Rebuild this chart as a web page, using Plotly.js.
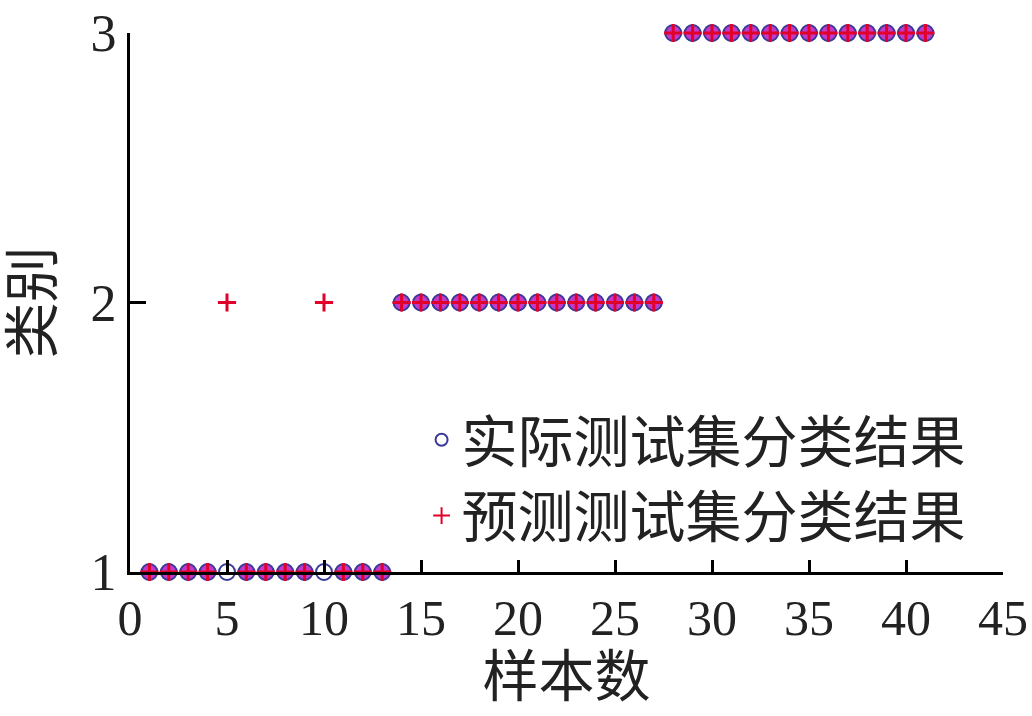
<!DOCTYPE html>
<html>
<head>
<meta charset="utf-8">
<script src="https://cdn.plot.ly/plotly-3.0.1.min.js"></script>
<style>
  html, body { margin: 0; padding: 0; background: #fff; }
  #chart { width: 1032px; height: 716px; }
</style>
</head>
<body>
<div id="chart"></div>
<script>
// sample number, 41 test samples
var samples = [1, 2, 3, 4, 5, 6, 7, 8, 9, 10, 11, 12, 13, 14, 15, 16, 17, 18, 19, 20,
  21, 22, 23, 24, 25, 26, 27, 28, 29, 30, 31, 32, 33, 34, 35, 36, 37, 38, 39, 40, 41];

// actual class of each test sample
var actualClass = [1, 1, 1, 1, 1, 1, 1, 1, 1, 1, 1, 1, 1,
  2, 2, 2, 2, 2, 2, 2, 2, 2, 2, 2, 2, 2, 2,
  3, 3, 3, 3, 3, 3, 3, 3, 3, 3, 3, 3, 3, 3];

// predicted class (samples 5 and 10 misclassified)
var predictedClass = [1, 1, 1, 1, 2, 1, 1, 1, 1, 2, 1, 1, 1,
  2, 2, 2, 2, 2, 2, 2, 2, 2, 2, 2, 2, 2, 2,
  3, 3, 3, 3, 3, 3, 3, 3, 3, 3, 3, 3, 3, 3];

var xTicks = [0, 5, 10, 15, 20, 25, 30, 35, 40, 45];
var yTicks = [1, 2, 3];

var serif = '"Liberation Serif", "Times New Roman", "Noto Sans CJK SC", serif';

// where the two markers sit on top of each other the print blends them to magenta
var hitX = [], hitY = [];
samples.forEach(function (s, i) {
  if (actualClass[i] === predictedClass[i]) {
    hitX.push(s);
    hitY.push(actualClass[i]);
  }
});

var traces = [
  {
    x: hitX, y: hitY, type: 'scatter', mode: 'markers',
    showlegend: false, hoverinfo: 'skip', cliponaxis: false,
    marker: { symbol: 'circle', size: 16, color: '#c43ac8', line: { width: 0 } }
  },
  {
    x: samples, y: actualClass, type: 'scatter', mode: 'markers',
    name: '实际测试集分类结果',
    cliponaxis: false,
    marker: { symbol: 'circle-open', size: 16, color: '#3a3a98', line: { color: '#3a3a98', width: 2 } }
  },
  {
    x: samples, y: predictedClass, type: 'scatter', mode: 'markers',
    name: '预测测试集分类结果',
    cliponaxis: false,
    marker: { symbol: 'cross-thin-open', size: 13, color: '#e0002a', line: { color: '#e0002a', width: 3 } }
  }
];

var layout = {
  width: 1032, height: 716,
  margin: { l: 130, r: 29, t: 33, b: 144 },
  paper_bgcolor: '#fff', plot_bgcolor: '#fff',
  font: { family: serif, size: 50, color: '#222' },
  showlegend: true,
  legend: {
    x: 0.334, y: 0.325, xanchor: 'left', yanchor: 'top',
    bgcolor: 'rgba(0,0,0,0)', borderwidth: 0,
    font: { family: serif, size: 56, color: '#222' },
    itemsizing: 'constant'
  },
  xaxis: {
    range: [0, 45], tickvals: xTicks, ticktext: xTicks.map(String),
    showgrid: false, zeroline: false, showline: true, linecolor: '#000', linewidth: 3,
    ticks: 'inside', ticklen: 12, tickwidth: 3, tickcolor: '#000',
    tickfont: { family: serif, size: 50, color: '#222' },
    title: { text: '样本数', font: { family: serif, size: 56, color: '#222' }, standoff: 10 }
  },
  yaxis: {
    range: [1, 3], tickvals: yTicks, ticktext: yTicks.map(String),
    showgrid: false, zeroline: false, showline: true, linecolor: '#000', linewidth: 3,
    ticks: 'inside', ticklen: 16, tickwidth: 3, tickcolor: '#000',
    tickfont: { family: serif, size: 52, color: '#222' },
    title: { text: '类别', font: { family: serif, size: 56, color: '#222' }, standoff: 20 }
  }
};

Plotly.newPlot('chart', traces, layout, { displayModeBar: false, staticPlot: true });
</script>
</body>
</html>
